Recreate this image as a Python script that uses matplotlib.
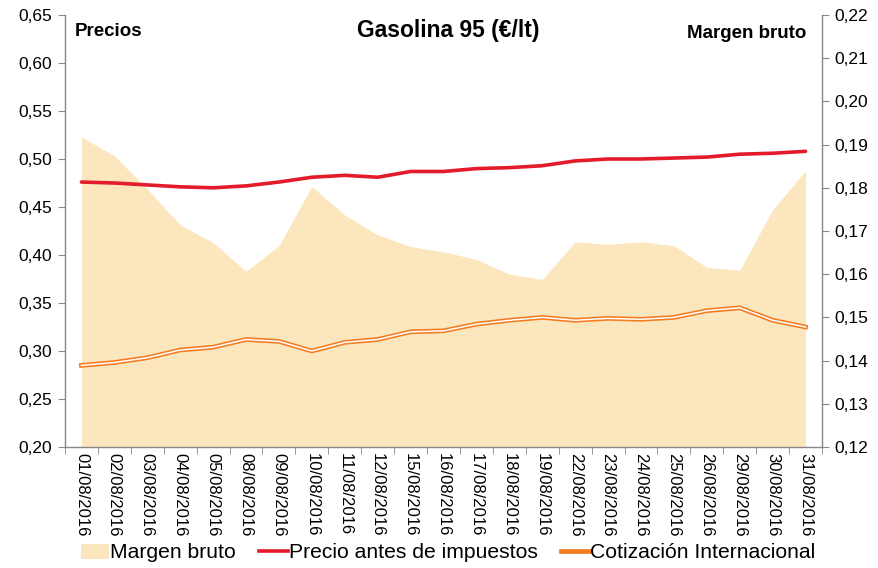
import matplotlib
matplotlib.use("Agg")
import matplotlib.pyplot as plt
from matplotlib.ticker import FuncFormatter, FixedLocator
from matplotlib.lines import Line2D
from matplotlib.patches import Patch
import numpy as np

plt.rcParams['font.family'] = ['Liberation Sans', 'DejaVu Sans']

dates = ["01/08/2016", "02/08/2016", "03/08/2016", "04/08/2016", "05/08/2016",
         "08/08/2016", "09/08/2016", "10/08/2016", "11/08/2016", "12/08/2016",
         "15/08/2016", "16/08/2016", "17/08/2016", "18/08/2016", "19/08/2016",
         "22/08/2016", "23/08/2016", "24/08/2016", "25/08/2016", "26/08/2016",
         "29/08/2016", "30/08/2016", "31/08/2016"]

precio = [0.476, 0.475, 0.473, 0.471, 0.470, 0.472, 0.476, 0.481, 0.483, 0.481,
          0.487, 0.487, 0.490, 0.491, 0.493, 0.498, 0.500, 0.500, 0.501, 0.502,
          0.505, 0.506, 0.508]

cotizacion = [0.285, 0.288, 0.293, 0.301, 0.304, 0.312, 0.310, 0.300, 0.309, 0.312,
              0.320, 0.321, 0.328, 0.332, 0.335, 0.332, 0.334, 0.333, 0.335, 0.342,
              0.345, 0.332, 0.325]

margen = [0.1918, 0.1874, 0.1797, 0.1714, 0.1673, 0.1607, 0.1666, 0.1803, 0.1737,
          0.1691, 0.1664, 0.1652, 0.1634, 0.1600, 0.1588, 0.1675, 0.1669, 0.1675,
          0.1666, 0.1616, 0.1609, 0.1749, 0.1840]

left_ticks = [0.20, 0.25, 0.30, 0.35, 0.40, 0.45, 0.50, 0.55, 0.60, 0.65]
right_ticks = [0.12, 0.13, 0.14, 0.15, 0.16, 0.17, 0.18, 0.19, 0.20, 0.21, 0.22]

c_area = "#FCE6BE"
c_red = "#E31B2A"
c_orange = "#F47C20"
c_axis = "#868686"

fig = plt.figure(figsize=(8.79, 5.68), dpi=100)
ax = fig.add_axes([65/879, 1-447/568, (822-65)/879, (447-15)/568])
ax2 = ax.twinx()
ax.set_zorder(ax2.get_zorder() + 1)
ax.patch.set_visible(False)

x = np.arange(len(dates))
ax2.fill_between(x, margen, 0.12, color=c_area, linewidth=0)
ax.plot(x, precio, color=c_red, lw=2.6, solid_capstyle='round', solid_joinstyle='round')
ax.plot(x, cotizacion, color=c_orange, lw=3.4, solid_joinstyle='round')
ax.plot(x, cotizacion, color="white", lw=1.1, solid_joinstyle='round')

ax.set_xlim(-0.5, len(dates) - 0.5)
ax.set_ylim(0.20, 0.65)
ax2.set_ylim(0.12, 0.22)

fmt2 = FuncFormatter(lambda v, p: f"{v:.2f}".replace(".", ","))
ax.yaxis.set_major_locator(FixedLocator(left_ticks))
ax2.yaxis.set_major_locator(FixedLocator(right_ticks))
ax.yaxis.set_major_formatter(fmt2)
ax2.yaxis.set_major_formatter(fmt2)

ax.set_xticks(x)
ax.set_xticklabels(dates, rotation=-90, fontsize=12)
ax.xaxis.set_minor_locator(FixedLocator(np.arange(-0.5, len(dates), 1.0)))
ax.tick_params(axis='x', which='major', length=0, pad=4)
ax.tick_params(axis='x', which='minor', length=5, color=c_axis, direction='out')
ax.tick_params(axis='y', length=5, color=c_axis, direction='out', labelsize=12.5, pad=4)
ax2.tick_params(axis='y', length=5, color=c_axis, direction='out', labelsize=12.5, pad=4)

for a in (ax, ax2):
    a.spines['top'].set_visible(False)
    for s in ('left', 'right', 'bottom'):
        a.spines[s].set_color(c_axis)
        a.spines[s].set_linewidth(1.0)
ax.spines['right'].set_visible(False)
ax2.spines['left'].set_visible(False)
ax2.spines['bottom'].set_visible(False)

fig.text(448/879, 1-30/568, "Gasolina 95 (€/lt)", ha='center', va='center',
         fontsize=16.5, fontweight='bold')
fig.text(75/879, 1-32/568, "Precios", ha='left', va='center', fontsize=13.5, fontweight='bold')
fig.text(806/879, 1-33/568, "Margen bruto", ha='right', va='center', fontsize=13.5, fontweight='bold')

handles = [Patch(facecolor=c_area, edgecolor='none'),
           Line2D([], [], color=c_red, lw=2.6),
           Line2D([], [], color=c_orange, lw=3.4)]
labels = ["Margen bruto", "Precio antes de impuestos", "Cotización Internacional"]
fig.legend(handles, labels, loc='center', bbox_to_anchor=(448/879, 1-553/568), ncol=3,
           frameon=False, fontsize=15.2, handlelength=1.35, handletextpad=0.05,
           columnspacing=1.1, borderaxespad=0, borderpad=0)

fig.savefig("out.png", dpi=100)
